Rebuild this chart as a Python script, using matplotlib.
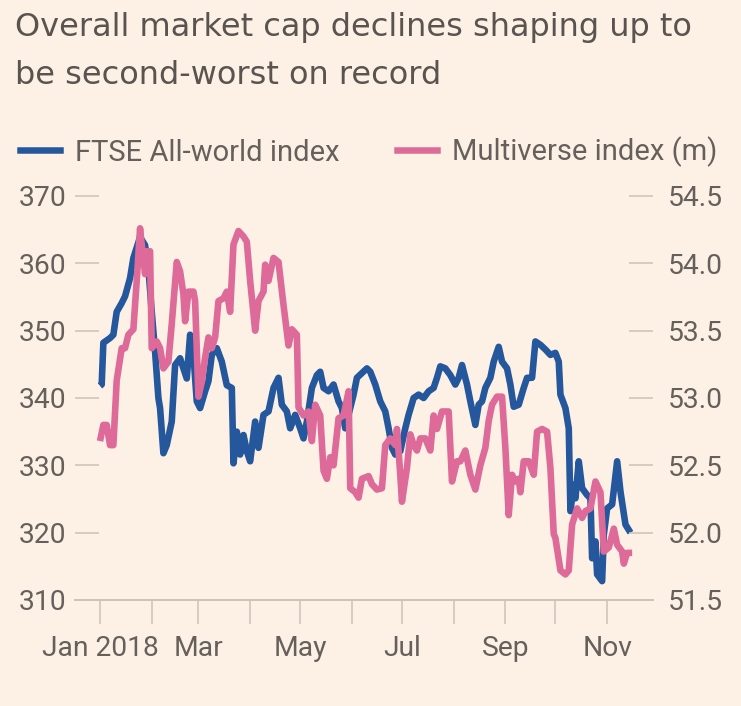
import matplotlib
matplotlib.use("Agg")
import matplotlib.pyplot as plt
from matplotlib.lines import Line2D
import pandas as pd

plt.rcParams['font.family'] = ['Roboto', 'DejaVu Sans']

# ---------------- data ----------------
title_lines = ["Overall market cap declines shaping up to", "be second-worst on record"]
series_names = ["FTSE All-world index", "Multiverse index (m)"]

# days since 1 Jan 2018
ftse_days = [0, 1, 2, 6, 8, 10, 13, 15, 18, 20, 24, 27, 29, 31, 33, 35, 36, 38, 40, 43,
             45, 48, 50, 52, 54, 56, 58, 60, 63, 65, 67, 70, 73, 76, 79, 80, 82, 84, 86, 88,
             90, 93, 95, 98, 101, 104, 107, 109, 112, 114, 117, 120, 122, 124, 127, 130, 132, 134, 137, 140,
             143, 145, 147, 149, 152, 154, 157, 160, 162, 165, 168, 171, 173, 175, 177, 180, 183, 185, 188, 191,
             194, 197, 200, 202, 204, 207, 210, 213, 215, 217, 220, 222, 225, 227, 229, 231, 234, 236, 239, 241,
             244, 246, 248, 251, 254, 256, 259, 261, 264, 267, 270, 273, 275, 276, 279, 281, 282, 284, 285, 287,
             289, 292, 294, 295, 297, 298, 301, 302, 304, 307, 310, 312, 315, 318]
ftse_values = [341.8, 342.0, 348.2, 348.9, 349.4, 352.8, 354.1, 355.1, 357.8, 360.8, 363.9, 362.7, 359.3, 352.8, 346.9, 340.0, 338.5, 331.8, 333.0, 336.5,
               344.9, 345.9, 344.4, 342.9, 349.4, 346.4, 339.5, 338.5, 341.0, 342.5, 346.4, 347.4, 345.4, 341.9, 341.5, 330.3, 335.0, 331.6, 334.5, 332.1,
               330.6, 336.5, 332.6, 337.5, 338.0, 341.5, 343.0, 339.0, 338.0, 335.5, 337.5, 335.5, 334.0, 336.5, 341.5, 343.4, 343.9, 341.5, 341.0, 342.0,
               339.5, 338.5, 335.5, 337.5, 340.5, 343.0, 343.7, 344.4, 343.9, 342.0, 339.5, 338.0, 335.5, 332.6, 331.6, 332.1, 335.5, 337.5, 340.0, 340.5,
               340.0, 341.0, 341.5, 343.0, 344.7, 344.4, 343.4, 342.0, 343.0, 344.9, 342.0, 339.5, 336.0, 339.0, 339.5, 341.5, 343.0, 345.4, 347.6, 345.4,
               344.4, 342.0, 338.7, 339.0, 341.5, 343.0, 343.0, 348.4, 347.9, 347.2, 346.4, 346.7, 345.4, 340.5, 338.5, 335.5, 323.2, 327.1, 325.1, 330.6,
               326.6, 325.6, 325.1, 316.2, 318.7, 313.8, 312.8, 319.7, 323.6, 324.2, 330.6, 326.1, 321.2, 320.0]

multiverse_days = [0, 2, 4, 6, 8, 10, 13, 15, 17, 20, 22, 24, 25, 27, 28, 30, 31, 34, 36, 38,
                   41, 43, 46, 48, 50, 51, 53, 56, 57, 59, 61, 63, 65, 67, 69, 71, 74, 76, 78, 80,
                   83, 86, 88, 90, 93, 95, 98, 99, 101, 104, 107, 110, 113, 115, 118, 119, 122, 125, 127, 129,
                   132, 134, 136, 138, 140, 143, 146, 149, 150, 153, 155, 157, 161, 163, 166, 169, 171, 174, 177, 178,
                   180, 181, 184, 186, 188, 190, 192, 195, 198, 200, 202, 205, 209, 211, 214, 216, 219, 222, 225, 228,
                   231, 233, 235, 238, 241, 243, 245, 247, 249, 251, 252, 254, 257, 260, 262, 265, 268, 270, 272, 273,
                   276, 279, 281, 283, 286, 289, 291, 294, 297, 300, 302, 305, 308, 310, 313, 314, 316, 319]
multiverse_values = [52.68, 52.80, 52.80, 52.65, 52.65, 53.13, 53.37, 53.37, 53.47, 53.51, 53.87, 54.26, 54.14, 53.92, 54.09, 54.09, 53.37, 53.42, 53.37, 53.22,
                     53.27, 53.55, 54.01, 53.94, 53.77, 53.57, 53.79, 53.79, 53.72, 53.01, 53.12, 53.30, 53.45, 53.37, 53.45, 53.72, 53.74, 53.79, 53.64, 54.14,
                     54.24, 54.20, 54.16, 53.87, 53.50, 53.72, 53.79, 53.99, 53.87, 54.04, 54.01, 53.69, 53.39, 53.51, 53.47, 52.93, 52.87, 52.90, 52.68, 52.95,
                     52.87, 52.46, 52.40, 52.56, 52.50, 52.85, 52.87, 53.05, 52.33, 52.30, 52.26, 52.40, 52.42, 52.36, 52.32, 52.33, 52.65, 52.70, 52.65, 52.77,
                     52.43, 52.23, 52.48, 52.73, 52.65, 52.61, 52.70, 52.70, 52.61, 52.87, 52.77, 52.90, 52.90, 52.38, 52.53, 52.53, 52.61, 52.43, 52.32, 52.50,
                     52.63, 52.83, 52.95, 53.01, 53.01, 52.63, 52.13, 52.43, 52.38, 52.40, 52.30, 52.53, 52.53, 52.43, 52.75, 52.77, 52.75, 52.48, 51.99, 51.96,
                     51.72, 51.69, 51.72, 52.06, 52.18, 52.11, 52.16, 52.18, 52.38, 52.30, 51.86, 51.89, 52.03, 51.91, 51.86, 51.77, 51.85, 51.85]

left_ticks = [310, 320, 330, 340, 350, 360, 370]
right_ticks = [51.5, 52.0, 52.5, 53.0, 53.5, 54.0, 54.5]
month_ticks = ['2018-01-01', '2018-02-01', '2018-03-01', '2018-04-01', '2018-05-01', '2018-06-01',
               '2018-07-01', '2018-08-01', '2018-09-01', '2018-10-01', '2018-11-01']
month_labels = ['Jan 2018', '', 'Mar', '', 'May', '', 'Jul', '', 'Sep', '', 'Nov']

# ---------------- style ----------------
BG = '#fdf1e6'
BLUE = '#24579b'
PINK = '#dd6a98'
AXC = '#cdc3b9'
TXT = '#66605c'
TITLE = '#5a5450'
PX = 0.72  # points per pixel at 100 dpi

W, H = 741, 706
fig = plt.figure(figsize=(W / 100, H / 100), dpi=100, facecolor=BG)
ax = fig.add_axes([75 / W, (H - 600) / H, 578 / W, 404 / H])
ax.set_facecolor(BG)

base = pd.Timestamp('2018-01-01')
fx = base + pd.to_timedelta(ftse_days, unit='D')
mx = base + pd.to_timedelta(multiverse_days, unit='D')

LW = 6.6 * PX
ax.plot(fx, ftse_values, color=BLUE, lw=LW, solid_joinstyle='round', solid_capstyle='butt')
ax.set_ylim(310, 370)
ax.set_xlim(base - pd.Timedelta(days=15), base + pd.Timedelta(days=331.5))

ax2 = ax.twinx()
ax2.plot(mx, multiverse_values, color=PINK, lw=LW, solid_joinstyle='round', solid_capstyle='butt')
ax2.set_ylim(51.5, 54.5)
ax2.set_xlim(ax.get_xlim())

for a in (ax, ax2):
    for s in a.spines.values():
        s.set_visible(False)
ax.spines['bottom'].set_visible(True)
ax.spines['bottom'].set_color(AXC)
ax.spines['bottom'].set_linewidth(2 * PX)

fs_tick = 20.3
ax.set_yticks(left_ticks)
ax.set_yticklabels([str(v) for v in left_ticks])
ax.tick_params(axis='y', direction='in', length=24 * PX, width=1.6 * PX, color=AXC,
               labelcolor=TXT, labelsize=fs_tick, pad=9 * PX)
ax2.set_yticks(right_ticks)
ax2.set_yticklabels([f'{v:.1f}' for v in right_ticks])
ax2.tick_params(axis='y', direction='in', length=24 * PX, width=1.6 * PX, color=AXC,
                labelcolor=TXT, labelsize=fs_tick, pad=15 * PX)

ax.set_xticks(pd.to_datetime(month_ticks))
ax.set_xticklabels(month_labels)
ax.tick_params(axis='x', direction='out', length=24 * PX, width=1.6 * PX, color=AXC,
               labelcolor=TXT, labelsize=fs_tick, pad=11 * PX)

# title
title_font = ['DejaVu Sans']
fig.text(15 / W, 1 - 36 / H, title_lines[0], fontsize=23, color=TITLE, va='baseline', ha='left',
         family=title_font)
fig.text(15 / W, 1 - 84 / H, title_lines[1], fontsize=23, color=TITLE, va='baseline', ha='left',
         family=title_font)

# legend
fs_leg = 21
pxpt = fs_leg / PX  # font size in px
handles = [Line2D([], [], color=BLUE, lw=6.5 * PX), Line2D([], [], color=PINK, lw=6.5 * PX)]
fig.legend(handles, series_names, loc='center left', bbox_to_anchor=(20 / W, 1 - 152 / H),
           ncol=2, frameon=False, fontsize=fs_leg, labelcolor=TXT,
           handlelength=40 / pxpt, handletextpad=15 / pxpt, columnspacing=57 / pxpt,
           borderpad=0, borderaxespad=0)

fig.savefig('out.png', dpi=100, facecolor=BG)
